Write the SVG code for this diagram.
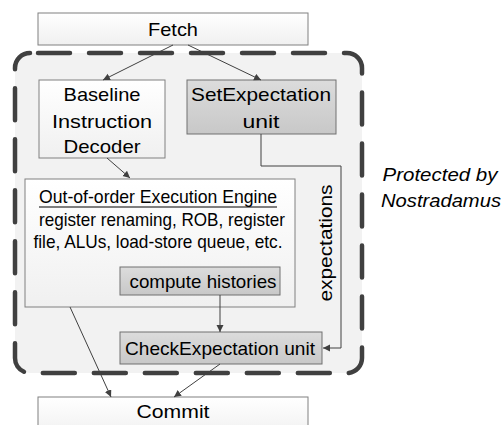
<svg xmlns="http://www.w3.org/2000/svg" width="504" height="425" viewBox="0 0 504 425">
<defs>
<style>
.t{font-family:"Liberation Sans",Arial,sans-serif;font-size:19px;fill:#000;text-anchor:middle}
.it{font-style:italic}
.box{fill:url(#gw);stroke:#808080;stroke-width:1}
.gbox{fill:url(#gg);stroke:#707070;stroke-width:1}
.con{fill:none;stroke:#404040;stroke-width:1}
</style>
<linearGradient id="gw" x1="0" y1="0" x2="0" y2="1">
<stop offset="0" stop-color="#ffffff"/><stop offset="1" stop-color="#f0f0f0"/>
</linearGradient>
<linearGradient id="gg" x1="0" y1="0" x2="0" y2="1">
<stop offset="0" stop-color="#dcdcdc"/><stop offset="1" stop-color="#c8c8c8"/>
</linearGradient>
<marker id="ah" markerUnits="userSpaceOnUse" markerWidth="8" markerHeight="8" refX="7" refY="3.5" orient="auto">
<path d="M0,0 L7,3.5 L0,7 z" fill="#404040"/>
</marker>
</defs>
<rect width="504" height="425" fill="#ffffff"/>
<g id="region">
<rect x="15" y="53" width="347" height="320" rx="15" fill="#f2f2f2" stroke="#404040" stroke-width="4.5" stroke-dasharray="32 19" stroke-dashoffset="43" stroke-linecap="round"/>
</g>
<g id="fetch">
<rect class="box" x="38" y="13" width="270" height="32"/>
<text class="t" x="173" y="36" textLength="50" lengthAdjust="spacingAndGlyphs">Fetch</text>
</g>
<g id="decoder">
<rect class="box" x="39" y="80" width="126" height="78"/>
<text class="t" x="102" y="101" textLength="77" lengthAdjust="spacingAndGlyphs">Baseline</text>
<text class="t" x="102" y="128" textLength="100" lengthAdjust="spacingAndGlyphs">Instruction</text>
<text class="t" x="102" y="153" textLength="77" lengthAdjust="spacingAndGlyphs">Decoder</text>
</g>
<g id="setexp">
<rect class="gbox" x="187" y="80" width="149" height="54"/>
<text class="t" x="261" y="101" textLength="140" lengthAdjust="spacingAndGlyphs">SetExpectation</text>
<text class="t" x="261" y="128" textLength="37" lengthAdjust="spacingAndGlyphs">unit</text>
</g>
<g id="ooo">
<rect class="box" x="25" y="179" width="270" height="128"/>
<text class="t" x="158" y="203" textLength="238" lengthAdjust="spacingAndGlyphs">Out-of-order Execution Engine</text>
<line x1="39" y1="207" x2="277" y2="207" stroke="#000" stroke-width="1"/>
<text class="t" x="162" y="226" textLength="246" lengthAdjust="spacingAndGlyphs">register renaming, ROB, register</text>
<text class="t" x="158" y="248" textLength="249" lengthAdjust="spacingAndGlyphs">file, ALUs, load-store queue, etc.</text>
</g>
<g id="histories">
<rect class="gbox" x="120" y="267" width="160" height="28"/>
<text class="t" x="203" y="288" textLength="147" lengthAdjust="spacingAndGlyphs">compute histories</text>
</g>
<g id="checkexp">
<rect class="gbox" x="120" y="332" width="202" height="32"/>
<text class="t" x="220" y="355" textLength="190" lengthAdjust="spacingAndGlyphs">CheckExpectation unit</text>
</g>
<g id="commit">
<rect class="box" x="38" y="397" width="270" height="40"/>
<text class="t" x="173" y="418" textLength="73" lengthAdjust="spacingAndGlyphs">Commit</text>
</g>
<g id="connectors">
<line class="con" x1="173" y1="45" x2="103" y2="80" marker-end="url(#ah)"/>
<line class="con" x1="188" y1="45" x2="261" y2="80" marker-end="url(#ah)"/>
<line class="con" x1="107" y1="158" x2="130" y2="178" marker-end="url(#ah)"/>
<polyline class="con" points="261,134 261,166 341,166 341,348 323,348" marker-end="url(#ah)"/>
<line class="con" x1="220" y1="295" x2="220" y2="332" marker-end="url(#ah)"/>
<line class="con" x1="70" y1="307" x2="111" y2="397" marker-end="url(#ah)"/>
<line class="con" x1="220" y1="364" x2="174" y2="397" marker-end="url(#ah)"/>
</g>
<g id="labels">
<text class="t" transform="translate(332,243) rotate(-90)" x="0" y="0" textLength="117" lengthAdjust="spacingAndGlyphs">expectations</text>
<text class="t it" x="440" y="181" textLength="115" lengthAdjust="spacingAndGlyphs">Protected by</text>
<text class="t it" x="441" y="207" textLength="120" lengthAdjust="spacingAndGlyphs">Nostradamus</text>
</g>
</svg>
